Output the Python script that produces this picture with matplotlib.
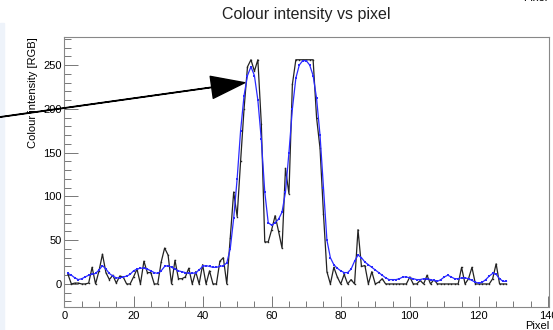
import numpy as np
import matplotlib
matplotlib.use("Agg")
import matplotlib.pyplot as plt
from matplotlib.ticker import MultipleLocator
from matplotlib.patches import Rectangle

plt.rcParams['font.family'] = ['Liberation Sans', 'DejaVu Sans']

# -----------------------------
# data: raw pixel intensity and smoothed version
# -----------------------------
pixel = np.arange(1, 129)

raw = [11, 0, 1, 1, 0, 0, 1, 19, 0, 15,
       34, 13, 5, 10, 1, 9, 8, 0, 0, 8,
       17, 0, 26, 13, 13, 0, 0, 25, 41, 33,
       0, 27, 6, 6, 8, 18, 0, 14, 0, 22,
       0, 15, 0, 0, 26, 30, 0, 52, 105, 77,
       140, 200, 248, 256, 243, 256, 183, 48, 48, 62,
       78, 60, 41, 132, 103, 228, 256, 256, 256, 256,
       256, 256, 190, 155, 80, 14, 0, 19, 8, 0,
       11, 0, 5, 0, 62, 20, 21, 0, 14, 0,
       2, 6, 0, 0, 0, 0, 0, 0, 0, 8,
       0, 0, 4, 0, 10, 0, 5, 0, 0, 0,
       0, 0, 0, 0, 19, 0, 6, 19, 0, 0,
       0, 0, 0, 6, 23, 0, 0, 0]

smooth = [12, 10, 7, 5, 6, 8, 10, 11, 12, 16,
          21, 17, 12, 9, 7, 7, 8, 9, 11, 15,
          17, 18, 18, 17, 15, 13, 12, 15, 20, 21,
          19, 17, 15, 14, 13, 12, 12, 13, 16, 20,
          21, 20, 19, 19, 20, 21, 24, 40, 75, 120,
          175, 215, 238, 248, 238, 210, 165, 105, 70, 67,
          70, 74, 82, 105, 150, 200, 235, 250, 255, 255,
          250, 238, 212, 170, 110, 50, 30, 22, 18, 15,
          13, 13, 17, 26, 33, 30, 25, 22, 19, 16,
          13, 10, 7, 5, 5, 5, 6, 8, 8, 7,
          6, 5, 5, 6, 6, 5, 4, 3, 5, 8,
          10, 8, 6, 6, 7, 7, 6, 4, 2, 1,
          2, 5, 9, 12, 11, 6, 3, 3]

# -----------------------------
# figure
# -----------------------------
fig = plt.figure(figsize=(5.53, 3.30), dpi=100)
ax = fig.add_axes([0.1166, 0.0697, 0.8761, 0.8182])

# faint strip on the left edge of the canvas
fig.patches.append(Rectangle((0, 0), 0.007, 0.93, transform=fig.transFigure,
                             color='#eef3fa', zorder=-1))

ax.plot(pixel, raw, color='#222222', lw=0.9, marker='s', ms=1.0, mew=0)
ax.plot(pixel, smooth, color='#2a2aff', lw=0.9, marker='s', ms=1.6, mew=0)

ax.set_xlim(0, 140.3)
ax.set_ylim(-26.3, 282)

ax.xaxis.set_major_locator(MultipleLocator(20))
ax.xaxis.set_minor_locator(MultipleLocator(5))
ax.yaxis.set_major_locator(MultipleLocator(50))
ax.yaxis.set_minor_locator(MultipleLocator(10))

ax.tick_params(which='both', direction='in', top=False, right=False,
               color='#777777', labelsize=8, width=0.7)
ax.tick_params(axis='y', which='major', length=10, pad=2)
ax.tick_params(axis='y', which='minor', length=5)
ax.tick_params(axis='x', which='major', length=8, pad=3)
ax.tick_params(axis='x', which='minor', length=4)

for s in ax.spines.values():
    s.set_color('#888888')
    s.set_linewidth(0.8)

ax.set_xlabel('Pixel', loc='right', fontsize=8, labelpad=0)
ax.set_ylabel('Colour intensity [RGB]', loc='top', fontsize=8, labelpad=4)
ax.set_title('Colour intensity vs pixel', fontsize=11.5, pad=13, color='#222222')

# stray axis title cut off at the top right of the canvas
fig.text(0.99, 1.005, 'Pixel', ha='right', va='center', fontsize=8)

# arrow pointing to the first peak
ax.annotate('', xy=(52.2, 229.8), xytext=(-18.7, 190.6),
            arrowprops=dict(facecolor='black', edgecolor='black', width=0.3,
                            headwidth=16, headlength=24, shrink=0),
            annotation_clip=False)

fig.savefig('out.png', dpi=100)
